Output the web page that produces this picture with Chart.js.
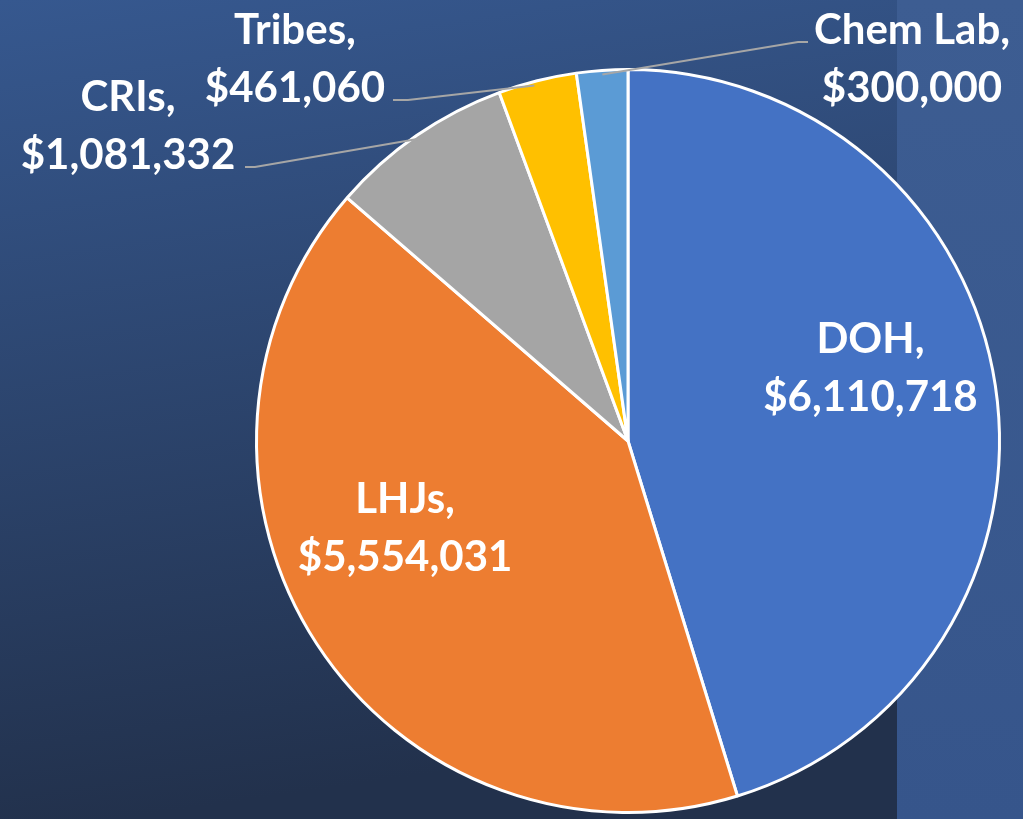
<!DOCTYPE html>
<html>
<head>
<meta charset="utf-8">
<script src="https://cdn.jsdelivr.net/npm/chart.js@4/dist/chart.umd.min.js"></script>
<style>
html,body{margin:0;padding:0;width:1023px;height:819px;overflow:hidden;background:#2c4470;}
#wrap{position:relative;width:1023px;height:819px;}
canvas{display:block;}
</style>
</head>
<body>
<div id="wrap"><canvas id="c" width="1023" height="819"></canvas></div>
<script>
const categories = ["DOH", "LHJs", "CRIs", "Tribes", "Chem Lab"];
const amounts = [6110718, 5554031, 1081332, 461060, 300000];
const sliceColors = ["#4472C4", "#ED7D31", "#A5A5A5", "#FFC000", "#5B9BD5"];

// label placement (style only): either inside at a radius fraction, or outside with a leader line
const labelStyle = [
  {mode: "in", rFrac: 0.66, dx: 0, dy: -36},
  {mode: "in", rFrac: 0.62, dx: -30, dy: -38},
  {mode: "out", tx: 128, ty: 126, lineEnd: [245, 167], lineMid: [255, 167], anchorFrac: 0.5},
  {mode: "out", tx: 295, ty: 59, lineEnd: [393, 100], lineMid: [408, 100], anchorFrac: 0.45},
  {mode: "out", tx: 912, ty: 59, lineEnd: [808, 42], lineMid: [798, 42], anchorFrac: 0.5}
];

function fmt(v){ return "$" + v.toLocaleString("en-US"); }

const bgPlugin = {
  id: "bg",
  beforeDraw(chart){
    const ctx = chart.ctx;
    const W = chart.width, H = chart.height;
    ctx.save();
    const g = ctx.createLinearGradient(0, 0, 120, H);
    g.addColorStop(0, "#36588f");
    g.addColorStop(1, "#22314c");
    ctx.fillStyle = g;
    ctx.fillRect(0, 0, W, H);
    const g2 = ctx.createLinearGradient(0, 0, 0, H);
    g2.addColorStop(0, "#3d5d92");
    g2.addColorStop(1, "#36558b");
    ctx.fillStyle = g2;
    ctx.fillRect(897, 0, W - 897, H);
    ctx.restore();
  }
};

const labelPlugin = {
  id: "labels",
  afterDatasetsDraw(chart){
    const ctx = chart.ctx;
    const meta = chart.getDatasetMeta(0);
    ctx.save();
    ctx.font = "bold 42px Lato, 'Liberation Sans', sans-serif";
    ctx.fillStyle = "#ffffff";
    ctx.textAlign = "center";
    ctx.textBaseline = "middle";
    const lh = 58;
    meta.data.forEach((arc, i) => {
      const p = arc.getProps(["x","y","startAngle","endAngle","outerRadius"], true);
      const mid = (p.startAngle + p.endAngle) / 2;
      const st = labelStyle[i];
      const l1 = categories[i] + ",";
      const l2 = fmt(amounts[i]);
      if (st.mode === "in") {
        const r = p.outerRadius * st.rFrac;
        const cx = p.x + Math.cos(mid) * r + st.dx;
        const cy = p.y + Math.sin(mid) * r + st.dy;
        ctx.fillText(l1, cx, cy - lh/2);
        ctx.fillText(l2, cx, cy + lh/2);
      } else {
        const ang = p.startAngle + (p.endAngle - p.startAngle) * st.anchorFrac;
        const ax = p.x + Math.cos(ang) * (p.outerRadius - 4);
        const ay = p.y + Math.sin(ang) * (p.outerRadius - 4);
        ctx.strokeStyle = "#a6a6a6";
        ctx.lineWidth = 2;
        ctx.beginPath();
        ctx.moveTo(ax, ay);
        ctx.lineTo(st.lineMid[0], st.lineMid[1]);
        ctx.lineTo(st.lineEnd[0], st.lineEnd[1]);
        ctx.stroke();
        ctx.fillText(l1, st.tx, st.ty - lh/2);
        ctx.fillText(l2, st.tx, st.ty + lh/2);
      }
    });
    ctx.restore();
  }
};

new Chart(document.getElementById("c"), {
  type: "pie",
  data: {
    labels: categories,
    datasets: [{
      data: amounts,
      backgroundColor: sliceColors,
      borderColor: "#ffffff",
      borderWidth: 3
    }]
  },
  options: {
    responsive: false,
    animation: false,
    layout: {padding: {left: 255, right: 22, top: 68, bottom: 5}},
    plugins: {legend: {display: false}, tooltip: {enabled: false}, title: {display: false}}
  },
  plugins: [bgPlugin, labelPlugin]
});
</script>
</body>
</html>
